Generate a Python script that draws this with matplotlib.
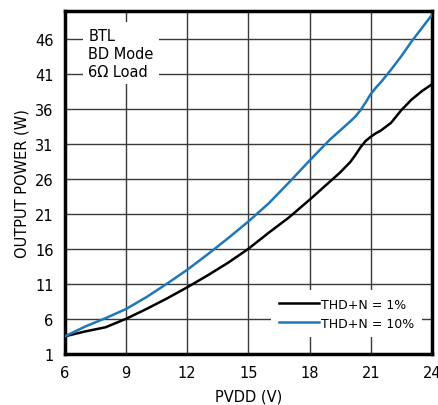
import numpy as np
import matplotlib.pyplot as plt

# output power vs supply voltage, BTL / BD mode / 6 ohm
pvdd = [6, 7, 8, 9, 10, 11, 12, 13, 14, 15, 16, 17, 18, 19, 19.5, 20, 20.25, 20.5, 20.75, 21, 21.25, 21.5, 22, 22.5, 23, 23.5, 24]
thd_1 = [3.5, 4.2, 4.8, 6.0, 7.4, 8.9, 10.5, 12.2, 14.0, 16.0, 18.3, 20.5, 23.0, 25.6, 26.9, 28.4, 29.4, 30.5, 31.4, 32.0, 32.5, 32.9, 34.0, 35.8, 37.3, 38.5, 39.5]
thd_10 = [3.5, 4.9, 6.1, 7.4, 9.1, 11.0, 13.0, 15.2, 17.5, 19.9, 22.5, 25.5, 28.6, 31.6, 32.9, 34.2, 34.9, 35.8, 36.9, 38.1, 39.0, 39.8, 41.6, 43.5, 45.6, 47.5, 49.4]

x_ticks = [6, 9, 12, 15, 18, 21, 24]
y_ticks = [1, 6, 11, 16, 21, 26, 31, 36, 41, 46]

blue = '#1f77b8'

fig = plt.figure(figsize=(4.38, 4.06), dpi=100)
ax = fig.add_axes([0.148, 0.126, 0.838, 0.845])

ax.plot(pvdd, thd_1, color='black', lw=1.8, label='THD+N = 1%', zorder=3)
ax.plot(pvdd, thd_10, color=blue, lw=1.8, label='THD+N = 10%', zorder=3)

ax.set_xlim(6, 24)
ax.set_ylim(1, 50)
ax.set_xticks(x_ticks)
ax.set_yticks(y_ticks)
ax.tick_params(length=0, labelsize=10.5, pad=8)
ax.grid(True, color='#3a3a3a', lw=1)
ax.set_axisbelow(True)
for s in ax.spines.values():
    s.set_linewidth(2.5)

ax.set_xlabel('PVDD (V)', fontsize=10.5, labelpad=6)
ax.set_ylabel('OUTPUT POWER (W)', fontsize=10.5, labelpad=4)

ax.text(7.15, 47.6, 'BTL\nBD Mode\n6\u03a9 Load', fontsize=10.5, va='top', ha='left',
        linespacing=1.25, bbox=dict(facecolor='white', edgecolor='none', pad=4), zorder=4)

leg = ax.legend(loc='lower right', bbox_to_anchor=(0.99, 0.03), fontsize=9,
                frameon=True, fancybox=False, handlelength=3.2, handletextpad=0.2,
                borderpad=0.6, labelspacing=0.5)
leg.get_frame().set_edgecolor('none')
leg.get_frame().set_facecolor('white')
leg.get_frame().set_alpha(1)

fig.savefig('out.png', dpi=100)
